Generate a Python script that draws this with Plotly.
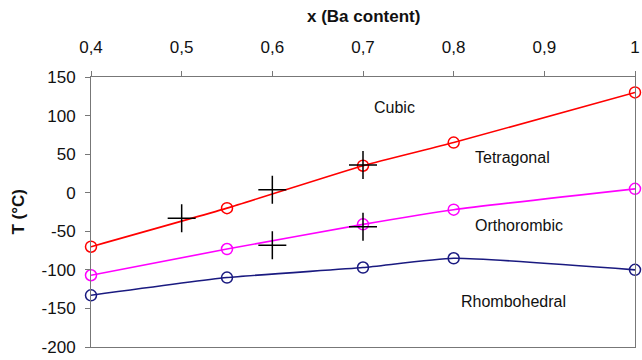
import plotly.graph_objects as go

# Data
x_pts = [0.4, 0.55, 0.7, 0.8, 1.0]
t_cubic_tetragonal = [-70, -20, 35, 65, 130]
t_tetragonal_orthorhombic = [-107, -73, -41, -22, 5]
t_orthorhombic_rhombohedral = [-133, -110, -97, -85, -100]

cross_x = [0.5, 0.6, 0.6, 0.7, 0.7]
cross_t = [-33, 4, -68, 36, -44]

region_labels = ["Cubic", "Tetragonal", "Orthorombic", "Rhombohedral"]
region_x = [0.735, 0.865, 0.872, 0.866]
region_t = [110, 46, -42, -141]

x_ticks = [0.4, 0.5, 0.6, 0.7, 0.8, 0.9, 1.0]
x_tick_labels = ["0,4", "0,5", "0,6", "0,7", "0,8", "0,9", "1"]
y_ticks = [150, 100, 50, 0, -50, -100, -150, -200]
y_tick_labels = [str(v) for v in y_ticks]

FONT = "Liberation Sans, Arial"

fig = go.Figure()

series = [
    (t_cubic_tetragonal, "#ff0000"),
    (t_tetragonal_orthorhombic, "#ff00ff"),
    (t_orthorhombic_rhombohedral, "#1a1a80"),
]
for ys, col in series:
    fig.add_trace(go.Scatter(
        x=x_pts, y=ys, mode="lines+markers",
        line=dict(color=col, width=1.6, shape="spline", smoothing=0.5),
        marker=dict(symbol="circle-open", size=11, color=col, line=dict(width=1.5, color=col)),
        showlegend=False, cliponaxis=False,
    ))

fig.add_trace(go.Scatter(
    x=cross_x, y=cross_t, mode="markers",
    marker=dict(symbol="cross-thin-open", size=20, color="black", line=dict(width=1.5, color="black")),
    showlegend=False,
))

for txt, xv, tv in zip(region_labels, region_x, region_t):
    fig.add_annotation(x=xv, y=tv, text=txt, showarrow=False,
                       font=dict(family=FONT, size=16, color="#111"))

fig.add_annotation(xref="paper", yref="paper", x=0.5, y=1, yshift=72, text="<b>x (Ba content)</b>",
                   showarrow=False, font=dict(family=FONT, size=17, color="#111"))
fig.add_annotation(xref="paper", yref="paper", x=0, xshift=-85, y=0.5, text="<b>T (°C)</b>", textangle=-90,
                   showarrow=False, font=dict(family=FONT, size=17, color="#111"))

fig.update_layout(
    width=642, height=360,
    margin=dict(l=91, r=2, t=77, b=13),
    paper_bgcolor="white", plot_bgcolor="white",
    font=dict(family=FONT, size=17, color="#111"),
    xaxis=dict(
        range=[0.4, 1.0], side="top", tickvals=x_ticks, ticktext=x_tick_labels,
        ticks="outside", ticklen=5, tickcolor="#777", tickwidth=1,
        showline=True, linecolor="#777", linewidth=1, mirror=True,
        showgrid=False, zeroline=False, ticklabelstandoff=11,
        ticklabeloverflow="allow",
    ),
    yaxis=dict(
        range=[-200, 150], tickvals=y_ticks, ticktext=y_tick_labels,
        ticks="outside", ticklen=5, tickcolor="#777", tickwidth=1,
        showline=True, linecolor="#777", linewidth=1, mirror=True,
        showgrid=False, zeroline=False, ticklabelstandoff=6,
        ticklabeloverflow="allow",
    ),
)

fig.write_html("out.html", config={"displayModeBar": False},
               post_script="document.body.style.margin='0';document.body.style.overflow='hidden';")
